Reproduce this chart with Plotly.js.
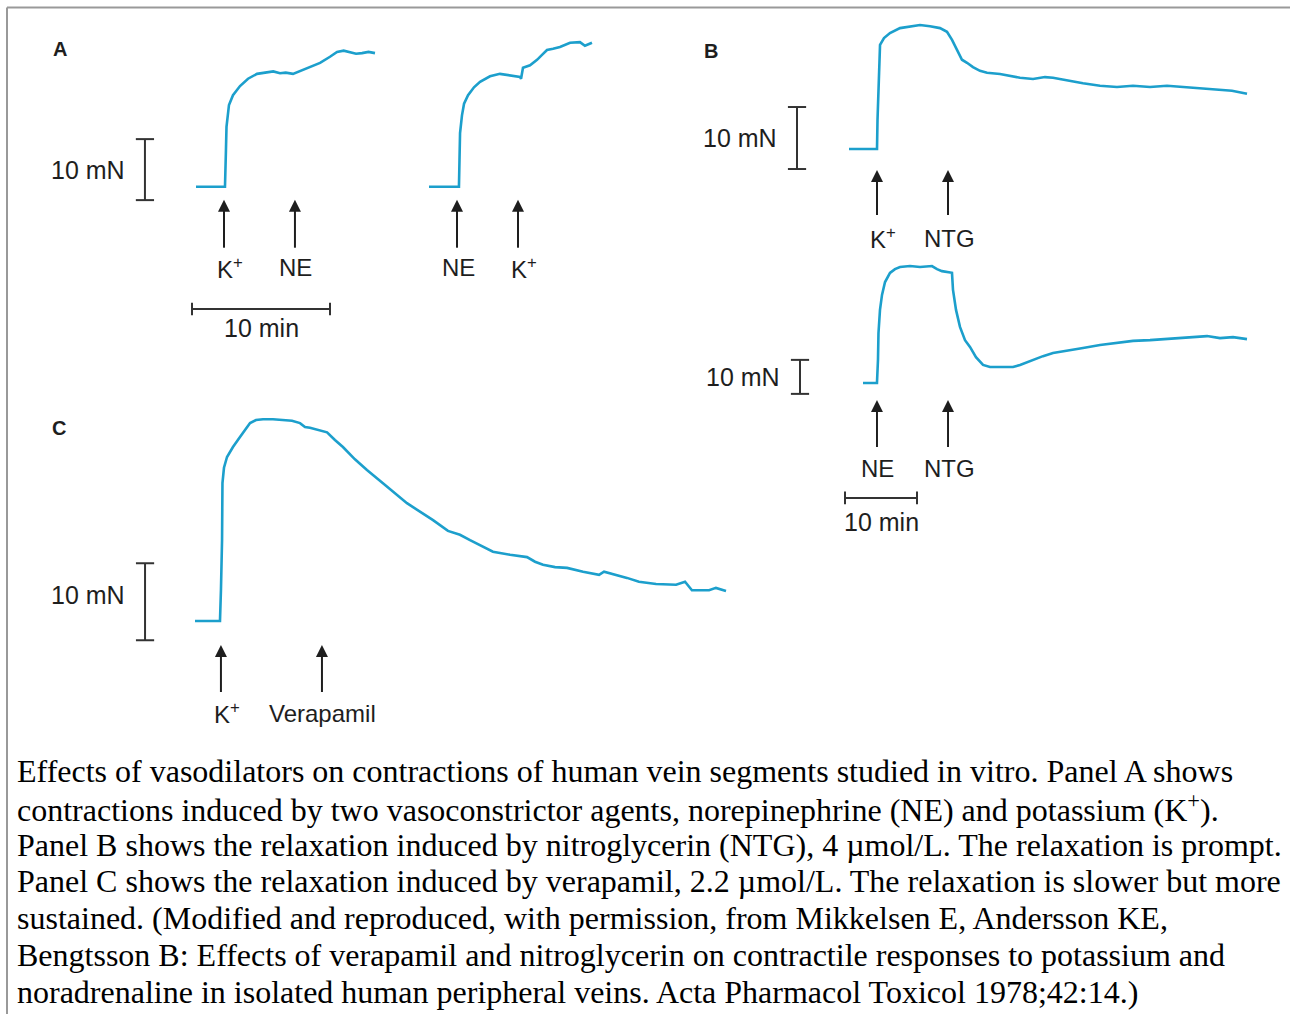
<!DOCTYPE html>
<html>
<head>
<meta charset="utf-8">
<script src="https://cdn.plot.ly/plotly-3.0.1.min.js"></script>
<style>html,body{margin:0;padding:0;background:#fff;}#chart{width:1290px;height:1014px;}</style>
</head>
<body>
<div id="chart"></div>
<script>
// ---------- DATA (time in min, force in mN above baseline) ----------
// Panel A, left trace: K+ then NE
const A1_time  = [0, 2.10, 2.17, 2.21, 2.39, 2.68, 3.19, 3.77, 4.42, 5.14, 5.6, 6.09, 6.5, 7.03, 7.54, 8.26, 8.99, 9.71, 10.22, 10.7, 11.16, 11.6, 12.03, 12.5, 12.97];
const A1_force = [0, 0, 6.0, 9.8, 13.4, 15.0, 16.5, 17.7, 18.5, 18.8, 18.9, 18.6, 18.7, 18.5, 19.0, 19.6, 20.3, 21.3, 22.1, 22.3, 22.1, 21.8, 21.9, 22.1, 21.9];
const A1_events = ["K<sup>+</sup>", "NE"];
const A1_eventTimes = [2.03, 7.17];

// Panel A, right trace: NE then K+
const A2_time  = [0, 2.17, 2.21, 2.25, 2.39, 2.54, 2.83, 3.26, 3.70, 4.42, 5.14, 5.87, 6.59, 6.67, 6.81, 7.32, 7.83, 8.19, 8.55, 8.99, 9.49, 10.22, 10.94, 11.30, 11.81];
const A2_force = [0, 0, 4.4, 8.8, 11.7, 13.6, 15.0, 16.3, 17.2, 18.1, 18.5, 18.3, 18.0, 17.7, 19.5, 19.9, 20.8, 21.6, 22.4, 22.6, 22.9, 23.6, 23.7, 23.1, 23.6];
const A2_events = ["NE", "K<sup>+</sup>"];
const A2_eventTimes = [2.03, 6.45];

// Panel B, upper trace: K+ then NTG
const B1_time  = [0, 3.89, 3.96, 4.03, 4.17, 4.31, 4.86, 5.69, 7.08, 8.47, 9.86, 11.25, 12.64, 13.61, 14.31, 15.0, 15.69, 16.39, 17.22, 18.19, 19.17, 20.97, 22.36, 23.75, 25.56, 27.22, 28.33, 30.0, 32.5, 34.86, 37.22, 39.44, 41.81, 44.17, 46.39, 48.75, 51.11, 53.19, 55.28];
const B1_force = [0, 0, 4.7, 7.9, 14.4, 16.8, 17.9, 18.7, 19.5, 19.8, 20.0, 19.8, 19.5, 18.9, 17.6, 16.0, 14.4, 13.9, 13.2, 12.6, 12.3, 12.1, 11.8, 11.5, 11.3, 11.6, 11.5, 11.1, 10.6, 10.2, 10.0, 10.2, 10.0, 10.2, 10.0, 9.7, 9.5, 9.4, 8.9];
const B1_events = ["K<sup>+</sup>", "NTG"];
const B1_eventTimes = [3.89, 13.75];

// Panel B, lower trace: NE then NTG
const B2_time  = [0, 1.94, 2.08, 2.15, 2.36, 2.64, 3.06, 3.75, 4.44, 5.14, 6.53, 7.92, 9.58, 10.28, 10.97, 12.36, 12.5, 12.92, 13.47, 14.17, 14.86, 15.69, 16.67, 17.64, 19.03, 20.83, 21.81, 23.61, 25.0, 26.39, 28.33, 30.56, 32.92, 35.28, 37.5, 39.86, 42.22, 44.44, 46.11, 47.78, 49.58, 51.39, 53.33];
const B2_force = [0, 0, 6.8, 14.7, 21.5, 25.9, 29.7, 32.4, 33.5, 34.1, 34.4, 34.1, 34.4, 33.5, 32.9, 32.4, 27.4, 21.5, 16.5, 12.6, 10.6, 7.6, 5.3, 4.7, 4.7, 4.7, 5.3, 6.8, 7.9, 8.8, 9.4, 10.3, 11.2, 11.8, 12.4, 12.6, 12.9, 13.2, 13.5, 13.8, 13.2, 13.5, 12.9];
const B2_events = ["NE", "NTG"];
const B2_eventTimes = [1.94, 11.81];

// Panel C: K+ then verapamil
const C_time  = [0, 1.81, 1.88, 1.96, 1.99, 2.10, 2.32, 2.75, 3.26, 3.62, 3.99, 4.42, 4.93, 5.65, 6.38, 7.03, 7.61, 7.97, 8.33, 8.91, 9.57, 10.14, 10.72, 11.59, 12.46, 13.62, 14.49, 15.36, 16.30, 17.25, 18.33, 19.20, 19.93, 20.80, 21.59, 22.83, 24.06, 24.64, 25.22, 26.09, 26.96, 28.12, 29.28, 29.64, 30.51, 31.30, 32.17, 33.41, 34.86, 35.51, 36.01, 37.25, 37.75, 38.48];
const C_force = [0, 0, 4.0, 10.5, 17.9, 19.9, 21.3, 22.6, 23.9, 24.8, 25.7, 26.1, 26.2, 26.2, 26.1, 26.0, 25.7, 25.2, 25.1, 24.8, 24.5, 23.5, 22.6, 21.0, 19.6, 17.9, 16.6, 15.3, 14.2, 13.1, 11.7, 11.2, 10.5, 9.7, 9.0, 8.6, 8.3, 7.7, 7.3, 7.0, 6.9, 6.4, 6.0, 6.4, 6.0, 5.6, 5.1, 4.8, 4.7, 5.1, 4.0, 4.0, 4.3, 3.9];
const C_events = ["K<sup>+</sup>", "Verapamil"];
const C_eventTimes = [1.88, 9.20];

// Calibration bars
const forceBar = 10;   // mN
const timeBar = 10;    // min
const panelLetters = ["A", "B", "C"];

const captionLines = [
  "Effects of vasodilators on contractions of human vein segments studied in vitro. Panel A shows",
  "contractions induced by two vasoconstrictor agents, norepinephrine (NE) and potassium (K<sup>+</sup>).",
  "Panel B shows the relaxation induced by nitroglycerin (NTG), 4 \u00b5mol/L. The relaxation is prompt.",
  "Panel C shows the relaxation induced by verapamil, 2.2 \u00b5mol/L. The relaxation is slower but more",
  "sustained. (Modified and reproduced, with permission, from Mikkelsen E, Andersson KE,",
  "Bengtsson B: Effects of verapamil and nitroglycerin on contractile responses to potassium and",
  "noradrenaline in isolated human peripheral veins. Acta Pharmacol Toxicol 1978;42:14.)"
];

// ---------- LAYOUT / STYLE ----------
const W = 1290, H = 1014;
const traceColor = "#1c9fcc";
const inkColor = "#1e1e1e";
const barColor = "#333333";
const sansFont = "Liberation Sans, Arial, sans-serif";
const serifFont = "Liberation Serif, Times New Roman, serif";

// Each panel: own axis pair; origin pixel of (t=0,F=0) and pixel scales
const panels = [
  {id: "", t: A1_time, f: A1_force, ev: A1_events, evT: A1_eventTimes, x0: 196, y0: 186.7, sx: 13.8, sy: 6.1,
   headPx: 13, arrowLen: 48, vbarT: -3.7, vbarF0: -2.2, hbar: {t0: -0.29, F: -20.05, labelShift: -19}, mnShift: 0},
  {id: "2", t: A2_time, f: A2_force, ev: A2_events, evT: A2_eventTimes, x0: 429, y0: 186.7, sx: 13.8, sy: 6.1,
   headPx: 13, arrowLen: 48},
  {id: "3", t: B1_time, f: B1_force, ev: B1_events, evT: B1_eventTimes, x0: 849, y0: 149, sx: 7.2, sy: 6.2,
   headPx: 21, arrowLen: 45, vbarT: -7.22, vbarF0: -3.23, mnShift: 0},
  {id: "4", t: B2_time, f: B2_force, ev: B2_events, evT: B2_eventTimes, x0: 863, y0: 383, sx: 7.2, sy: 3.4,
   headPx: 17, arrowLen: 47, vbarT: -8.75, vbarF0: -3.2, hbar: {t0: -2.5, F: -33.8, labelShift: -24}, mnShift: 0},
  {id: "5", t: C_time, f: C_force, ev: C_events, evT: C_eventTimes, x0: 195, y0: 621, sx: 13.8, sy: 7.7,
   headPx: 24, arrowLen: 47, vbarT: -3.62, vbarF0: -2.5, mnShift: 7}
];

const traces = [];
const annotations = [];
const layout = {
  width: W, height: H,
  margin: {l: 0, r: 0, t: 0, b: 0, pad: 0},
  paper_bgcolor: "#ffffff",
  plot_bgcolor: "rgba(0,0,0,0)",
  showlegend: false,
  hovermode: false,
  shapes: [
    {type: "line", xref: "paper", yref: "paper", x0: 7/W, x1: 1, y0: 1 - 7.5/H, y1: 1 - 7.5/H, line: {color: "#999999", width: 2}},
    {type: "line", xref: "paper", yref: "paper", x0: 7/W, x1: 7/W, y0: 0, y1: 1 - 7.5/H, line: {color: "#999999", width: 2}}
  ]
};

panels.forEach(p => {
  const xa = "x" + p.id, ya = "y" + p.id;
  const xkey = "xaxis" + p.id, ykey = "yaxis" + p.id;
  layout[xkey] = {domain: [0, 1], range: [-p.x0 / p.sx, (W - p.x0) / p.sx], visible: false, fixedrange: true, anchor: ya};
  layout[ykey] = {domain: [0, 1], range: [(p.y0 - H) / p.sy, p.y0 / p.sy], visible: false, fixedrange: true, anchor: xa};

  traces.push({type: "scatter", mode: "lines", x: p.t, y: p.f, xaxis: xa, yaxis: ya,
    line: {color: traceColor, width: 2.6}, hoverinfo: "skip"});

  // event arrows (drawn through the panel axes) + labels
  const headF = -p.headPx / p.sy;              // arrow tip, below the baseline
  const tailF = headF - p.arrowLen / p.sy;
  const sx = [], sy = [];
  p.evT.forEach(t => { sx.push(t, t, null); sy.push(tailF, headF - 10 / p.sy, null); });
  traces.push({type: "scatter", mode: "lines", x: sx, y: sy, xaxis: xa, yaxis: ya,
    line: {color: inkColor, width: 2}, hoverinfo: "skip"});
  traces.push({type: "scatter", mode: "markers", x: p.evT, y: p.evT.map(() => headF), xaxis: xa, yaxis: ya,
    marker: {symbol: "arrow-up", size: 12, color: inkColor, line: {width: 0}}, hoverinfo: "skip"});

  p.ev.forEach((name, i) => {
    const isK = name.indexOf("K<sup>") === 0;
    annotations.push({xref: xa, yref: ya, x: p.evT[i], y: headF, yshift: -68, xshift: isK ? 6 : 1,
      text: name, showarrow: false, xanchor: "center", yanchor: "middle",
      font: {family: sansFont, size: 24, color: inkColor}});
  });

  // force calibration bar
  if (p.vbarT !== undefined) {
    traces.push({type: "scatter", mode: "lines+markers", x: [p.vbarT, p.vbarT], y: [p.vbarF0, p.vbarF0 + forceBar],
      xaxis: xa, yaxis: ya, line: {color: barColor, width: 2},
      marker: {symbol: "line-ew-open", size: 13, color: barColor, line: {color: barColor, width: 2}}, hoverinfo: "skip"});
    annotations.push({xref: xa, yref: ya, x: p.vbarT, y: p.vbarF0 + forceBar / 2, xshift: -18, yshift: p.mnShift || 0,
      text: "10 mN", showarrow: false, xanchor: "right", yanchor: "middle",
      font: {family: sansFont, size: 25, color: inkColor}});
  }
  // time calibration bar
  if (p.hbar) {
    traces.push({type: "scatter", mode: "lines+markers", x: [p.hbar.t0, p.hbar.t0 + timeBar], y: [p.hbar.F, p.hbar.F],
      xaxis: xa, yaxis: ya, line: {color: barColor, width: 2},
      marker: {symbol: "line-ns-open", size: 9, color: barColor, line: {color: barColor, width: 2}}, hoverinfo: "skip"});
    annotations.push({xref: xa, yref: ya, x: p.hbar.t0 + timeBar / 2, y: p.hbar.F, yshift: p.hbar.labelShift,
      text: "10 min", showarrow: false, xanchor: "center", yanchor: "middle",
      font: {family: sansFont, size: 25, color: inkColor}});
  }
});

// panel letters
const letterPos = [[60, 49], [711, 51], [59, 428]];
panelLetters.forEach((L, i) => {
  annotations.push({xref: "paper", yref: "paper", x: letterPos[i][0] / W, y: 1 - letterPos[i][1] / H,
    text: "<b>" + L + "</b>", showarrow: false, xanchor: "center", yanchor: "middle",
    font: {family: sansFont, size: 20, color: inkColor}});
});

// caption
captionLines.forEach((line, i) => {
  annotations.push({xref: "paper", yref: "paper", x: 15 / W, y: 1 - (771 + i * 36.8) / H,
    text: line, showarrow: false, xanchor: "left", yanchor: "middle",
    font: {family: serifFont, size: 32, color: "#000000"}});
});

layout.annotations = annotations;

Plotly.newPlot("chart", traces, layout, {displayModeBar: false, staticPlot: true});
</script>
</body>
</html>
